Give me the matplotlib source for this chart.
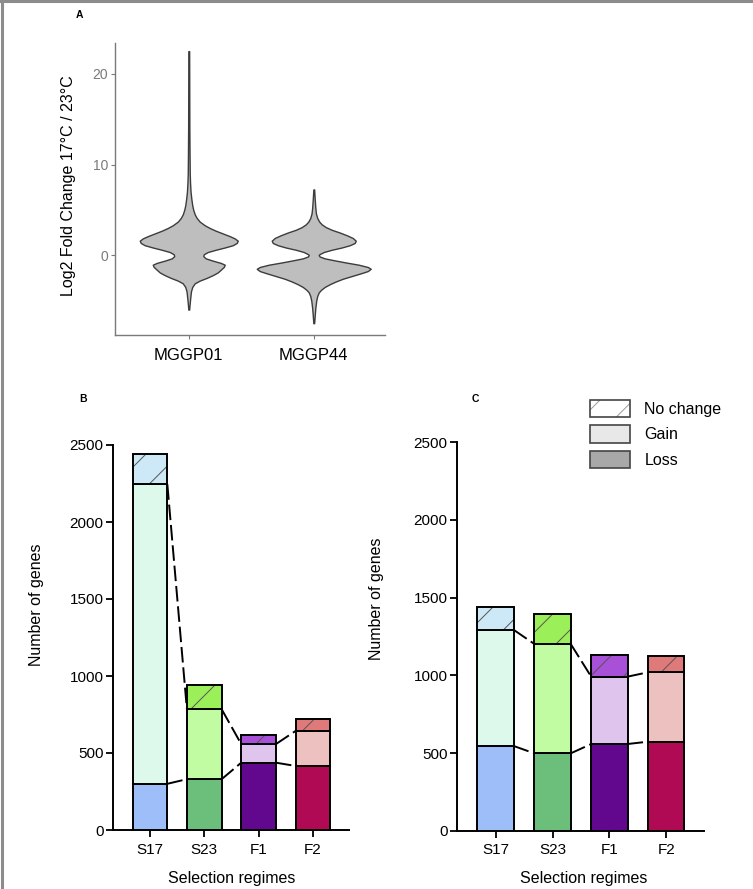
import numpy as np
import matplotlib
matplotlib.use("Agg")
import matplotlib.pyplot as plt
from matplotlib.patches import Patch
from matplotlib.lines import Line2D

plt.rcParams['font.family'] = ['Liberation Sans', 'DejaVu Sans']
plt.rcParams['hatch.linewidth'] = 0.7

W, H = 753, 889

# ---- panel A: violin outlines (value, half width in px)
strains = ["MGGP01", "MGGP44"]
v01_y = [22.5, 18, 14, 11, 9, 8, 7, 6.2, 5.5, 5.0, 4.5, 4.1, 3.7, 3.3, 3.0, 2.7,
         2.4, 2.1, 1.85, 1.6, 1.35, 1.1, 0.85, 0.6, 0.35, 0.1, -0.1, -0.35, -0.6,
         -0.85, -1.05, -1.3, -1.6, -1.9, -2.2, -2.5, -2.8, -3.1, -3.5, -4.0, -4.8,
         -5.5, -6.0]
v01_w = [0.4, 0.5, 0.6, 0.8, 1.0, 1.3, 1.8, 2.6, 3.5, 4.5, 6, 8, 11, 16, 21, 27,
         34, 41, 46, 49, 48, 44, 36, 27, 19, 15, 14.5, 17, 24,
         32, 36, 35, 32, 29, 24, 18, 11, 6, 3.5, 2.2, 1.4,
         0.8, 0.4]
v44_y = [7.25, 6.5, 5.8, 5.2, 4.6, 4.1, 3.7, 3.4, 3.1, 2.8, 2.5, 2.2, 1.9, 1.6,
         1.35, 1.1, 0.85, 0.6, 0.35, 0.1, 0.0, -0.15, -0.35, -0.55, -0.8, -1.05,
         -1.3, -1.5, -1.75, -2.0, -2.3, -2.6, -2.9, -3.2, -3.5, -3.8, -4.1, -4.5,
         -5.0, -5.8, -6.6, -7.5]
v44_w = [0.4, 0.8, 1.2, 1.6, 2.2, 3.5, 5.5, 8, 12, 18, 26, 33, 39, 42,
         41, 36, 28, 18, 10, 5.5, 5, 6, 11, 20, 32, 45,
         54, 57, 54, 47, 38, 29, 22, 16, 11, 7.5, 5, 3.5,
         2.5, 1.6, 1.0, 0.4]

# ---- panels B and C: stacked gene counts
regimes = ["S17", "S23", "F1", "F2"]
b_loss = [300, 330, 437, 416]
b_gain = [1945, 454, 121, 227]
b_none = [195, 158, 59, 76]
c_loss = [546, 499, 559, 574]
c_gain = [746, 703, 433, 446]
c_none = [146, 195, 139, 105]

col_loss = ["#9dbef8", "#6bbf7b", "#62088f", "#b00a55"]
col_gain = ["#ddf9ec", "#c2fca2", "#dfc4ee", "#eec1c1"]
col_none = ["#cde8f7", "#9bf05a", "#a950d8", "#e07a7a"]

fig = plt.figure(figsize=(W / 100, H / 100), dpi=100)


def box(l, t, r, b):
    return [l / W, 1 - b / H, (r - l) / W, (b - t) / H]


# panel A
axA = fig.add_axes(box(115, 43, 385, 335))
px_per_unit = 125.0
for i, (yy, ww) in enumerate([(v01_y, v01_w), (v44_y, v44_w)]):
    pos = i + 1
    half = np.array(ww) / px_per_unit
    axA.fill_betweenx(yy, pos - half, pos + half, facecolor="#bebebe",
                      edgecolor="#3c3c3c", lw=1.0)
axA.set_xlim(0.41, 2.57)
axA.set_ylim(-8.8, 23.4)
axA.set_xticks([1, 2])
axA.set_xticklabels(strains, fontsize=12, color="black")
axA.set_yticks([0, 10, 20])
axA.tick_params(axis="y", labelsize=10, colors="#7a7a7a", length=3, pad=2)
axA.tick_params(axis="x", colors="#7a7a7a", length=3, pad=6, labelcolor="black")
for s in ["top", "right"]:
    axA.spines[s].set_visible(False)
for s in ["left", "bottom"]:
    axA.spines[s].set_color("#7a7a7a")
    axA.spines[s].set_linewidth(1.0)
fig.text(68.5 / W, 1 - 185.5 / H, "Log2 Fold Change 17°C / 23°C", rotation=90,
         ha="center", va="center", fontsize=11.5)


def stacked(ax, loss, gain, none):
    x = np.arange(len(regimes))
    bw = 0.64
    loss = np.array(loss)
    gain = np.array(gain)
    none = np.array(none)
    ax.bar(x, loss, bw, color=col_loss, edgecolor="black", lw=1.4, zorder=3)
    ax.bar(x, gain, bw, bottom=loss, color=col_gain, edgecolor="black", lw=1.4, zorder=3)
    ax.bar(x, none, bw, bottom=loss + gain, color=col_none, edgecolor="#555555",
           lw=0, hatch="/", zorder=3)
    ax.bar(x, none, bw, bottom=loss + gain, fill=False, edgecolor="black", lw=1.4, zorder=4)
    # dashed connectors between neighbouring bars
    for tops in [loss, loss + gain]:
        for i in range(len(x) - 1):
            ax.plot([x[i] + bw / 2, x[i + 1] - bw / 2], [tops[i], tops[i + 1]],
                    color="black", lw=1.4, ls=(0, (8, 2.5)), zorder=2)
    ax.set_xlim(-0.675, 3.67)
    ax.set_ylim(0, 2500)
    ax.set_xticks(x)
    ax.set_xticklabels(regimes)
    ax.set_yticks([0, 500, 1000, 1500, 2000, 2500])
    ax.tick_params(labelsize=11, length=5, width=1.3, pad=2)
    ax.tick_params(axis="x", pad=4)
    for s in ["top", "right"]:
        ax.spines[s].set_visible(False)
    for s in ["left", "bottom"]:
        ax.spines[s].set_linewidth(1.4)


axB = fig.add_axes(box(113.3, 445, 349.3, 830))
stacked(axB, b_loss, b_gain, b_none)
axC = fig.add_axes(box(457.3, 442, 704.3, 831))
stacked(axC, c_loss, c_gain, c_none)

fig.text(36 / W, 1 - 605 / H, "Number of genes", rotation=90, ha="center",
         va="center", fontsize=11.5)
fig.text(377 / W, 1 - 599 / H, "Number of genes", rotation=90, ha="center",
         va="center", fontsize=11.5)
fig.text(231.7 / W, 1 - 878 / H, "Selection regimes", ha="center", va="center",
         fontsize=11.5)
fig.text(583.7 / W, 1 - 878 / H, "Selection regimes", ha="center", va="center",
         fontsize=11.5)

# panel letters
fig.text(79 / W, 1 - 15 / H, "A", fontsize=7.5, fontweight="bold", ha="center", va="center")
fig.text(83 / W, 1 - 399 / H, "B", fontsize=7.5, fontweight="bold", ha="center", va="center")
fig.text(475 / W, 1 - 399 / H, "C", fontsize=7.5, fontweight="bold", ha="center", va="center")

# legend
h_none = (Patch(facecolor="white", edgecolor="#9a9a9a", lw=0, hatch="/"),
          Patch(fill=False, edgecolor="#444444", lw=1.2))
h_gain = Patch(facecolor="#e8e8e8", edgecolor="#444444", lw=1.2)
h_loss = Patch(facecolor="#a8a8a8", edgecolor="#444444", lw=1.2)
fig.legend([h_none, h_gain, h_loss], ["No change", "Gain", "Loss"],
           loc="upper left", bbox_to_anchor=(590 / W, 1 - 400 / H),
           frameon=False, fontsize=11.5, handlelength=2.5, handleheight=1.3,
           labelspacing=0.5, handletextpad=0.9, borderpad=0, borderaxespad=0)

# grey frame on the left and top edges
fig.add_artist(Line2D([0.002, 0.002], [0, 1], color="#8c8c8c", lw=2.2))
fig.add_artist(Line2D([0, 1], [0.9985, 0.9985], color="#8c8c8c", lw=2.2))

fig.savefig("out.png", dpi=100)
